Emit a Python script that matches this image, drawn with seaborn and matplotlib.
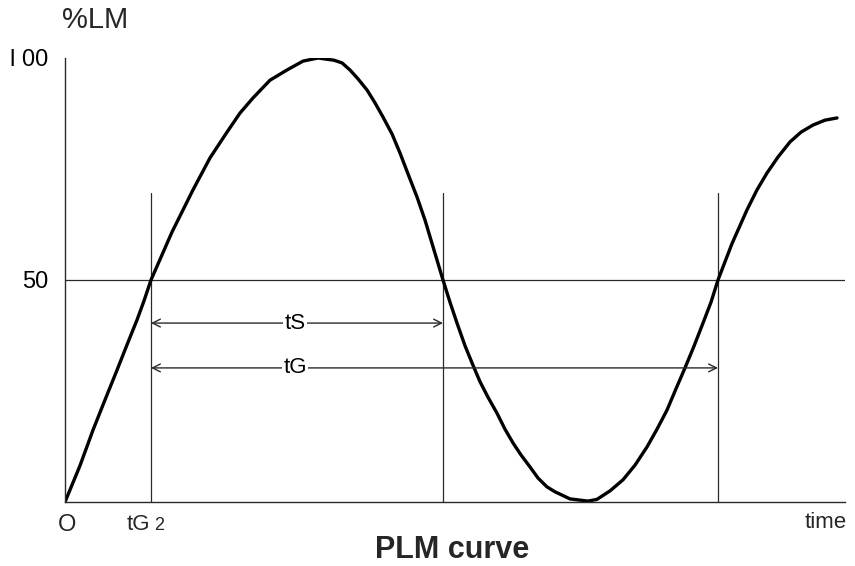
import seaborn as sns
import matplotlib.pyplot as plt
import pandas as pd

# PLM curve (time in arbitrary units, %LM)
time = [0.0, 1.5, 2.8, 4.0, 5.2, 6.2, 7.2, 7.9, 8.6, 10.7, 12.8, 14.5, 16.2,
        17.5, 18.8, 20.5, 22.2, 23.8, 25.3, 26.9, 27.7, 28.5, 29.3, 30.2,
        31.0, 31.8, 32.7, 33.5, 34.3, 35.2, 36.0, 36.8, 37.8, 38.5, 39.2,
        40.0, 40.8, 41.5, 42.3, 43.2, 44.0, 44.8, 45.6, 46.5, 47.3, 48.2,
        49.0, 50.5, 52.3, 53.2, 54.5, 55.8, 57.0, 58.2, 59.2, 60.2, 61.1,
        62.0, 62.9, 63.8, 64.6, 65.3, 66.7, 68.2, 69.2, 70.2, 71.3, 72.5,
        73.6, 74.8, 76.0, 77.2]
pct_lm = [0.0, 8.2, 16.2, 23.0, 29.7, 35.4, 41.0, 45.3, 50.0, 60.8, 70.3,
          77.5, 83.3, 87.6, 91.0, 95.0, 97.3, 99.3, 100.0, 99.5, 98.9, 97.3,
          95.3, 92.8, 89.9, 86.7, 82.9, 78.6, 73.9, 68.7, 63.5, 57.5, 50.0,
          45.0, 40.3, 35.2, 30.8, 27.1, 23.6, 20.0, 16.4, 13.3, 10.6, 7.9,
          5.4, 3.4, 2.3, 0.7, 0.2, 0.6, 2.5, 5.0, 8.3, 12.4, 16.4, 20.7,
          25.5, 30.2, 35.1, 40.3, 45.0, 50.0, 58.2, 65.8, 70.3, 74.1, 77.7,
          81.1, 83.3, 84.9, 86.0, 86.5]

# marker times where the curve crosses 50 %
t_g2 = 8.6
t_s_end = 37.8
t_g_end = 65.3
x_max = 78.0

ts_level = 40.3
tg_level = 30.2
vline_top = 69.5

df = pd.DataFrame({'time': time, 'pct': pct_lm})

sns.set_style('white')
plt.rcParams['font.family'] = ['Liberation Sans', 'DejaVu Sans']

fig = plt.figure(figsize=(8.55, 5.66), dpi=100)
ax = fig.add_axes([65 / 855, 1 - 502 / 566, 780 / 855, 444 / 566])

thin = dict(color='#2a2a2a', lw=0.9)

ax.axhline(50, **thin)
for t in [t_g2, t_s_end, t_g_end]:
    ax.plot([t, t], [0, vline_top], **thin)

sns.lineplot(data=df, x='time', y='pct', ax=ax, color='black', lw=2.4)

for level, end, label in [(ts_level, t_s_end, 'tS'), (tg_level, t_g_end, 'tG')]:
    ax.annotate('', xy=(t_g2, level), xytext=(end, level),
                arrowprops=dict(arrowstyle='<->', lw=1.0, color='#2a2a2a',
                                shrinkA=0, shrinkB=0, mutation_scale=14))
    ax.text(23.0, level, label, ha='center', va='center', fontsize=16,
            color='black', bbox=dict(facecolor='white', edgecolor='none', pad=1))

ax.set_xlim(0, x_max)
ax.set_ylim(0, 100)
ax.set_xlabel('')
ax.set_ylabel('')
ax.set_xticks([])
ax.set_yticks([50, 100])
ax.set_yticklabels(['50', 'l 00'], fontsize=17, color='black')
ax.tick_params(axis='y', direction='in', length=5, width=1, pad=12)
sns.despine(ax=ax)
for side in ['left', 'bottom']:
    ax.spines[side].set_color('#2a2a2a')
    ax.spines[side].set_linewidth(1.0)

ax.text(0.2, -2.8, 'O', ha='center', va='top', fontsize=17)
ax.text(t_g2 - 0.1, -2.8, 'tG', ha='right', va='top', fontsize=16)
ax.text(t_g2 + 0.3, -3.3, '2', ha='left', va='top', fontsize=13)
ax.text(76.1, -2.3, 'time', ha='center', va='top', fontsize=16)

fig.text(95 / 855, 1 - 20 / 566, '%LM', ha='center', va='center', fontsize=21,
         fontweight='medium')
fig.text(452 / 855, 1 - 550 / 566, 'PLM curve', ha='center', va='center',
         fontsize=22, fontweight='bold')

fig.savefig('out.png', dpi=100)
